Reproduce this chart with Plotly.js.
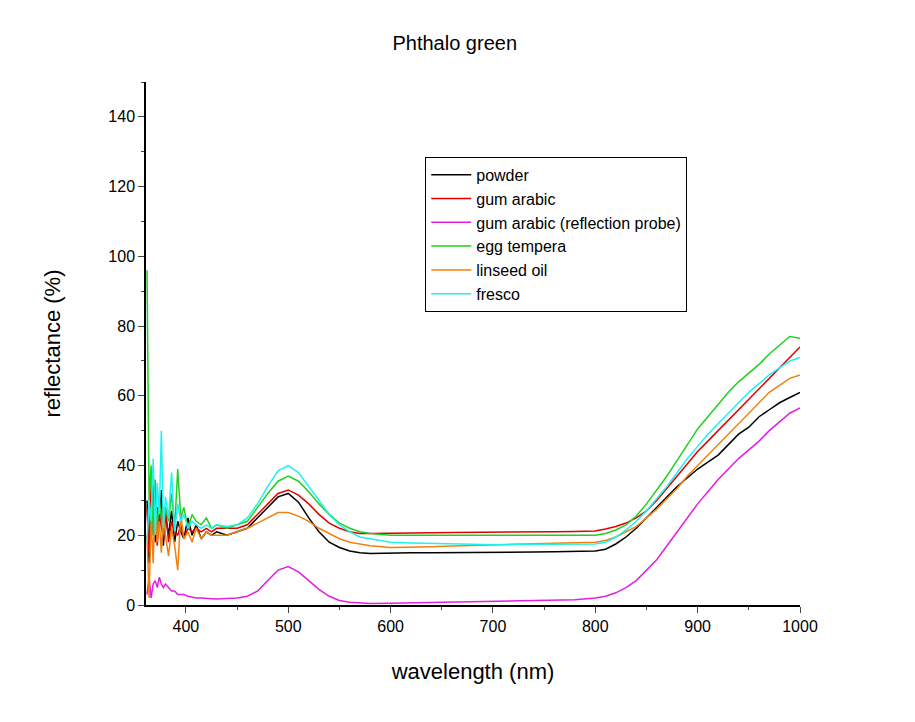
<!DOCTYPE html>
<html><head><script src="https://cdn.plot.ly/plotly-3.0.1.min.js"></script></head>
<body style="margin:0"><div id="g" style="width:915px;height:722px"></div>
<script>
const wl=[362,364,366,368,370,372,374,376,378,380,383,386,389,392,395,398,402,406,410,415,420,425,430,
440,450,460,470,480,490,500,510,520,530,540,550,560,570,580,600,620,640,660,680,700,720,740,760,780,800,
810,820,830,840,850,860,870,880,890,900,910,920,930,940,950,960,970,980,990,1000];
const powder=[30,12,25,38,18,28,22,33,17,26,20,27,18,24,21,19,25,20,23,19,21,20,21,
20,21,22,25,28,31,32,29.5,25,21,18,16.5,15.5,15,14.8,15,15,15,15,15,15,15,15.2,15.3,15.4,15.5,
16,17.5,19.5,22,25,28,31,34,36.5,39,41,43,46,49,51,54,56,58,59.5,61];
const gum=[28,15,35,20,30,17,26,22,19,28,18,24,21,20,23,19,22,21,22,21,22,21,22,
22,22,23,26,29,32,33,31.5,29,26,23.5,22,21,20.5,20.5,20.5,20.6,20.7,20.8,20.8,20.8,20.9,21,21,21.1,21.2,
21.8,22.5,23.5,25,27,30,33.5,37,40.5,44,47,50,53,56,59,62,65,68,71,74];
const probe=[3,8,2,6,7,5,8,6,5,6,5,4,4,3,3,3,2.5,2.2,2,2,1.8,1.8,1.7,
1.8,2,2.5,4,7,10,11,9.5,7,4.5,2.5,1.3,0.8,0.5,0.4,0.5,0.6,0.7,0.8,0.9,1,1.1,1.2,1.3,1.5,2,
2.5,3.5,5,7,10,13,17,21,25,29,32.5,36,39,42,44.5,47,50,52.5,55,56.5];
const egg=[96,30,40,20,36,22,30,25,20,28,24,32,22,39,25,28,22,26,24,23,25,22,23,
22,23,24,28,32,35.5,37,35.5,32.5,29,26,23.5,22,21,20.5,20,20,20,20,19.9,19.8,19.8,19.8,19.9,20,20,
20.5,21.5,23,25.5,29,33,37,41.5,46,50.5,54,57.5,61,64,66.5,69,72,74.5,77,76.5];
const linseed=[20,2,25,12,30,18,24,15,28,20,14,22,17,10,26,19,21,18,22,19,21,20,20,
20,21,22,23.5,25,26.5,26.5,25.5,24,22,20.5,19,18,17.5,17,16.5,16.5,16.7,16.9,17,17.2,17.4,17.6,17.8,17.9,18,
18.5,19.5,21,22.5,25,27.5,30.5,33.5,37,40,43,46,49,52,55,58,61,63,65,66];
const fresco=[18,30,24,42,20,35,26,50,22,31,25,38,21,29,24,26,22,24,23,22,23,22,23,
22.5,23,25,29,34,38.5,40,38,34,30,26,23,21,19.5,19,18,17.8,17.6,17.5,17.4,17.3,17.3,17.3,17.4,17.5,17.5,
18,19.5,21.5,24,27,30.5,34,38,42,45.5,49,52,55,58,61,63.5,66,68,70,71];
const names=['powder','gum arabic','gum arabic (reflection probe)','egg tempera','linseed oil','fresco'];
const series=[powder,gum,probe,egg,linseed,fresco];
const colors=['#000000','#e00000','#e020e0','#20d020','#f08010','#20f0f0'];
const traces=series.map((y,i)=>({x:wl,y:y,name:names[i],mode:'lines',line:{color:colors[i],width:1.5}}));
const f={family:'Arial, Liberation Sans, sans-serif',color:'#000'};
Plotly.newPlot('g',traces,{
 width:915,height:722,paper_bgcolor:'#fff',plot_bgcolor:'#fff',
 margin:{l:146,r:115,t:82,b:117},
 title:{text:'Phthalo green',font:{...f,size:20},x:0.497,y:0.95,xanchor:'center'},
 showlegend:true,
 legend:{x:0.427,y:0.857,xanchor:'left',yanchor:'top',bordercolor:'#000',borderwidth:1,font:{...f,size:16},bgcolor:'#fff',tracegroupgap:0,entrywidth:300,itemwidth:40},
 xaxis:{range:[361,1000],tickvals:[400,500,600,700,800,900,1000],ticks:'outside',ticklen:6,showgrid:false,zeroline:false,
  showline:true,linecolor:'#000',linewidth:1.5,tickfont:{...f,size:16},
  title:{text:'wavelength (nm)',font:{...f,size:22},standoff:30},minor:{dtick:50,ticks:'outside',ticklen:3}},
 yaxis:{range:[0,150],tickvals:[0,20,40,60,80,100,120,140],ticks:'outside',ticklen:6,showgrid:false,zeroline:false,
  showline:true,linecolor:'#000',linewidth:1.5,tickfont:{...f,size:16},
  title:{text:'reflectance (%)',font:{...f,size:22},standoff:42},minor:{dtick:10,ticks:'outside',ticklen:3}}
},{displayModeBar:false});
</script></body></html>
